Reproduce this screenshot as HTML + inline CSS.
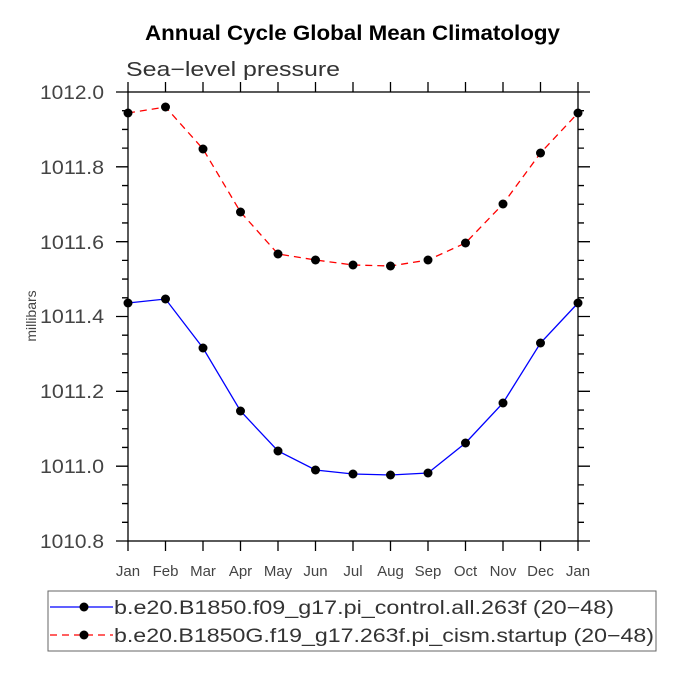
<!DOCTYPE html>
<html><head><style>body{margin:0;background:#fff}svg{display:block}text{font-family:"Liberation Sans",sans-serif}</style></head><body>
<svg id="s" width="675" height="675" xmlns="http://www.w3.org/2000/svg">
<text x="145" y="40" font-size="21" font-weight="bold" textLength="415" lengthAdjust="spacingAndGlyphs">Annual Cycle Global Mean Climatology</text>
<text x="126" y="76" font-size="20" fill="#333" textLength="214" lengthAdjust="spacingAndGlyphs">Sea−level pressure</text>
<rect x="128" y="92" width="450" height="449" fill="none" stroke="#000" stroke-width="1.3"/>
<path id="ticks" stroke="#000" stroke-width="1.3" fill="none"/>
<g font-size="19" fill="#444">
<text x="40" y="99" textLength="64" lengthAdjust="spacingAndGlyphs">1012.0</text><text x="40" y="174" textLength="64" lengthAdjust="spacingAndGlyphs">1011.8</text><text x="40" y="249" textLength="64" lengthAdjust="spacingAndGlyphs">1011.6</text>
<text x="40" y="323" textLength="64" lengthAdjust="spacingAndGlyphs">1011.4</text><text x="40" y="398" textLength="64" lengthAdjust="spacingAndGlyphs">1011.2</text><text x="40" y="473" textLength="64" lengthAdjust="spacingAndGlyphs">1011.0</text><text x="40" y="548" textLength="64" lengthAdjust="spacingAndGlyphs">1010.8</text>
</g>
<text transform="translate(36,316) rotate(-90)" font-size="14" fill="#444" text-anchor="middle">millibars</text>
<g font-size="15" fill="#444" text-anchor="middle">
<text x="128" y="576">Jan</text><text x="165.5" y="576">Feb</text><text x="203" y="576">Mar</text><text x="240.5" y="576">Apr</text>
<text x="278" y="576">May</text><text x="315.5" y="576">Jun</text><text x="353" y="576">Jul</text><text x="390.5" y="576">Aug</text>
<text x="428" y="576">Sep</text><text x="465.5" y="576">Oct</text><text x="503" y="576">Nov</text><text x="540.5" y="576">Dec</text><text x="578" y="576">Jan</text>
</g>
<polyline id="red" fill="none" stroke="#f00" stroke-width="1.3" stroke-dasharray="7,5"/>
<polyline id="blue" fill="none" stroke="#00f" stroke-width="1.3"/>
<g id="dots"></g>
<rect x="48" y="591" width="608" height="60" fill="none" stroke="#666" stroke-width="1"/>
<line x1="50" y1="607" x2="113" y2="607" stroke="#00f" stroke-width="1.3"/>
<circle cx="84" cy="607" r="4.5" fill="#000"/>
<line x1="50" y1="635" x2="113" y2="635" stroke="#f00" stroke-width="1.3" stroke-dasharray="7,5"/>
<circle cx="84" cy="635" r="4.5" fill="#000"/>
<g font-size="19" fill="#333">
<text x="114" y="614" textLength="500" lengthAdjust="spacingAndGlyphs">b.e20.B1850.f09_g17.pi_control.all.263f (20−48)</text>
<text x="114" y="642" textLength="540" lengthAdjust="spacingAndGlyphs">b.e20.B1850G.f19_g17.263f.pi_cism.startup (20−48)</text>
</g>
</svg>
<script>
var d="";
for(var k=0;k<=24;k++){var y=541-k*449/24,L=(k%4==0)?12:6;d+="M"+(128-L)+" "+y+"H128M578 "+y+"H"+(578+L);}
for(var i=0;i<=12;i++){var x=128+37.5*i;d+="M"+x+" 92V82M"+x+" 541V551";}
document.getElementById("ticks").setAttribute("d",d);
var r=[113,107,149,212,254,260,265,266,260,243,204,153,113],b=[303,299,348,411,451,470,474,475,473,443,403,343,303];
function pts(a){return a.map(function(y,i){return (128+37.5*i)+","+y}).join(" ")}
document.getElementById("red").setAttribute("points",pts(r));
document.getElementById("blue").setAttribute("points",pts(b));
var g="";r.concat(b).forEach(function(y,j){g+='<circle cx="'+(128+37.5*(j%13))+'" cy="'+y+'" r="4.5" fill="#000"/>'});
document.getElementById("dots").innerHTML=g;
</script>
</body></html>
